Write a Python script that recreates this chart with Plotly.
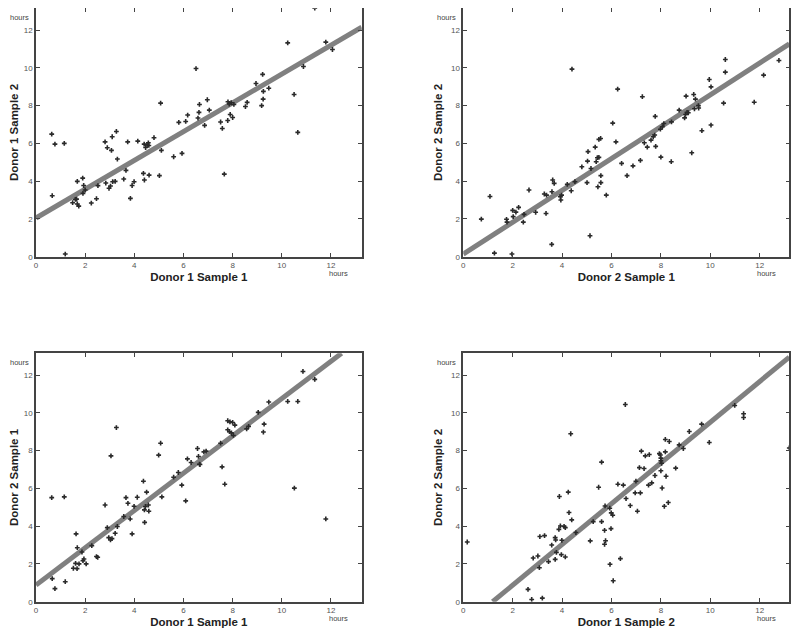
import plotly.graph_objects as go

# ---------------- data ----------------
p1_x = [0.64,0.77,1.15,0.66,1.19,1.49,1.60,1.68,1.74,1.65,1.68,1.90,1.94,1.91,2.00,2.25,2.46,2.52,2.81,2.84,
        2.90,2.97,3.03,3.07,3.12,3.22,3.10,3.27,3.31,3.57,3.66,3.73,3.84,3.91,3.99,4.14,4.37,4.40,4.41,4.46,
        4.52,4.59,4.57,4.60,4.80,5.02,5.07,5.10,5.60,5.94,5.81,6.09,6.17,6.51,6.59,6.63,6.65,6.86,6.97,7.05,
        7.51,7.58,7.66,7.81,7.80,7.86,7.94,7.90,8.00,8.05,8.52,8.59,8.95,9.22,9.25,9.24,9.18,9.47,10.24,10.50,
        10.65,10.88,11.34,11.79,12.06]
p1_y = [6.49,5.96,6.00,3.23,0.14,2.86,3.03,2.79,2.68,3.05,3.99,4.16,3.77,3.35,3.53,2.84,3.07,3.76,6.08,3.90,
        5.77,3.62,3.74,5.63,3.97,3.99,6.35,6.63,5.17,4.11,4.57,6.08,3.09,3.77,3.97,6.12,4.41,5.96,4.06,5.78,
        5.94,5.89,6.03,4.32,6.30,4.29,8.13,5.63,5.29,5.47,7.11,7.16,7.50,9.96,7.34,7.64,8.06,6.95,8.31,7.76,
        7.13,6.79,4.37,8.20,7.21,8.08,8.15,7.53,7.37,8.06,7.95,8.17,9.17,9.65,8.75,8.34,8.00,8.92,11.32,8.59,
        6.58,10.07,13.16,11.36,10.97]

p2_x = [0.73,1.08,1.26,1.75,1.77,1.97,2.00,2.02,2.13,2.24,2.43,2.46,2.66,2.93,3.28,3.37,3.35,3.58,3.59,3.62,
        3.68,3.93,3.95,3.98,4.21,4.37,4.40,4.52,4.80,5.01,5.03,5.05,5.13,5.17,5.34,5.38,5.45,5.49,5.49,5.56,
        5.43,5.57,5.57,5.79,6.05,6.18,6.25,6.41,6.63,6.87,7.17,7.25,7.33,7.45,7.60,7.69,7.75,7.77,7.79,8.00,
        7.98,8.06,8.12,8.42,8.43,8.74,8.96,9.00,9.06,9.11,9.02,9.25,9.33,9.40,9.36,9.52,9.53,9.66,9.96,10.03,
        10.03,10.54,10.61,10.61,11.78,12.16,12.78]
p2_y = [1.99,3.19,0.19,1.98,1.83,0.14,2.45,2.12,2.36,2.61,1.83,2.24,3.53,2.35,3.32,3.26,2.29,0.65,3.44,4.06,
        3.88,3.17,3.00,3.26,3.83,3.49,9.93,3.97,4.76,3.92,5.06,5.56,1.11,4.67,5.80,5.03,3.70,6.21,5.26,6.26,
        5.24,4.29,3.92,3.26,7.07,6.08,8.87,4.94,4.29,4.81,5.10,8.47,6.03,5.80,6.17,6.35,6.44,7.43,5.84,5.27,
        6.75,6.88,7.05,5.03,7.14,7.76,7.35,7.53,7.64,7.62,8.50,5.50,8.59,8.34,7.83,8.00,7.87,6.67,9.38,8.99,
        6.97,8.13,10.44,9.77,8.18,9.61,10.39]

p3_x = [0.64,0.66,0.77,1.15,1.19,1.52,1.63,1.61,1.67,1.68,1.75,1.87,1.91,1.95,2.04,2.27,2.46,2.51,2.81,2.90,
        2.96,3.03,3.09,3.05,3.22,3.27,3.31,3.57,3.66,3.74,3.83,3.91,3.99,4.12,4.37,4.41,4.45,4.42,4.50,4.57,
        4.59,4.99,5.07,5.12,5.60,5.79,5.93,6.09,6.16,6.31,6.57,6.61,6.65,6.67,6.83,6.92,7.51,7.57,7.68,7.80,
        7.89,8.00,8.09,7.80,7.87,7.95,8.03,8.57,8.65,9.04,9.28,9.25,9.47,10.24,10.51,10.65,10.86,11.34,11.79]
p3_y = [5.51,1.22,0.69,5.55,1.06,1.77,3.59,2.03,1.75,2.86,2.00,2.63,2.17,2.26,2.00,2.97,2.39,2.35,5.12,3.92,
        3.39,3.27,3.34,7.72,3.62,9.22,3.98,4.51,5.51,5.21,4.38,3.59,5.05,5.53,6.38,4.86,5.04,4.20,5.80,5.12,
        4.79,7.76,8.39,5.55,6.59,6.84,6.17,5.34,7.56,7.37,8.11,7.69,7.28,7.26,7.93,7.97,8.39,7.14,6.22,9.58,
        9.52,9.49,9.35,9.10,9.00,8.94,8.80,9.15,9.28,10.02,9.40,8.98,10.57,10.60,6.01,10.60,12.19,11.77,4.38]

p4_x = [0.16,2.62,2.77,2.83,3.02,3.08,3.10,3.20,3.29,3.45,3.58,3.72,3.74,3.72,3.77,3.89,3.87,3.93,4.08,3.97,
        3.99,4.13,4.13,4.25,4.28,4.35,4.39,4.56,5.14,5.26,5.48,5.60,5.60,5.72,5.74,5.76,5.72,5.93,5.98,5.94,
        5.99,6.05,6.07,6.26,6.36,6.48,6.56,6.59,6.76,6.96,6.99,7.05,7.13,7.17,7.21,7.32,7.37,7.50,7.53,7.63,
        7.76,7.94,7.98,8.00,8.00,8.03,8.00,8.05,8.14,8.18,8.18,8.21,8.34,8.30,8.60,8.74,8.91,9.15,9.65,9.96,
        10.99,11.35,11.35,13.20]
p4_y = [3.16,0.65,0.12,2.31,2.42,1.80,3.45,0.19,3.50,2.12,3.00,3.39,3.27,2.24,2.61,5.57,3.83,4.01,3.99,2.49,
        3.25,3.92,2.37,5.80,4.72,8.89,4.33,3.66,3.22,4.24,6.06,7.39,4.24,3.78,5.07,3.23,3.04,4.95,3.87,1.98,
        4.70,4.58,1.11,6.22,2.28,6.17,10.44,5.46,5.09,5.76,6.38,4.79,7.10,5.76,7.97,7.05,7.72,6.17,7.79,6.29,
        6.68,7.84,7.77,7.60,7.46,7.33,6.93,6.02,5.05,8.59,7.93,6.64,8.48,5.25,7.07,8.30,8.11,9.01,9.40,8.43,
        10.39,9.95,9.75,8.14]

panel_x = [p1_x, p2_x, p3_x, p4_x]
panel_y = [p1_y, p2_y, p3_y, p4_y]
fit_intercept = [2.05, 0.14, 0.88, -1.28]
fit_slope = [0.762, 0.843, 0.987, 1.078]
x_titles = ["Donor 1 Sample 1", "Donor 2 Sample 1", "Donor 1 Sample 1", "Donor 1 Sample 2"]
y_titles = ["Donor 1 Sample 2", "Donor 2 Sample 2", "Donor 2 Sample 1", "Donor 2 Sample 2"]
tick_vals = [0, 2, 4, 6, 8, 10, 12]
tick_text = ["0", "2", "4", "6", "8", "10", "12"]
x_max = [13.25, 13.2, 13.25, 13.2]
y_max = 13.15
unit_label = "hours"

# ---------------- layout ----------------
W, H = 800, 631
OFF = 8  # page body margin of the html page


def fx(px):
    return (px - OFF) / W


def fy(py):
    return 1 - (py - OFF) / H


xdom = [[fx(36), fx(361.7)], [fx(463.3), fx(789.3)], [fx(36), fx(361.7)], [fx(463.3), fx(789.3)]]
ydom_top = [fy(256.7), fy(8.3)]
ydom_bot = [fy(601.7), fy(353.3)]
ydom = [ydom_top, ydom_top, ydom_bot, ydom_bot]
left_px = [36, 463.3, 36, 463.3]
right_px = [361.7, 789.3, 361.7, 789.3]
top_px = [8.3, 8.3, 353.3, 353.3]
bot_px = [256.7, 256.7, 601.7, 601.7]

fig = go.Figure()
layout = dict(width=W, height=H, margin=dict(l=0, r=0, t=0, b=0, autoexpand=False),
              paper_bgcolor="white", plot_bgcolor="white", showlegend=False,
              font=dict(family="Liberation Sans, Arial, sans-serif"))
annotations = []

for i in range(4):
    sx = "" if i == 0 else str(i + 1)
    xa, ya = "x" + sx, "y" + sx
    xs, ys = panel_x[i], panel_y[i]
    b, m = fit_intercept[i], fit_slope[i]
    lx0 = -b / m if b < 0 else 0.0
    lx1 = min(x_max[i], (y_max - b) / m)
    fig.add_trace(go.Scatter(x=[lx0, lx1], y=[b + m * lx0, b + m * lx1], mode="lines",
                             line=dict(color="#808080", width=5), xaxis=xa, yaxis=ya,
                             hoverinfo="skip"))
    fig.add_trace(go.Scatter(x=xs, y=ys, mode="markers", xaxis=xa, yaxis=ya,
                             marker=dict(symbol="cross", size=4, color="#2a2a2a",
                                         line=dict(width=0))))
    axis_common = dict(showgrid=False, zeroline=False, showline=True, linecolor="#444444",
                       linewidth=1.5, mirror="ticks", ticks="inside", ticklen=4,
                       tickcolor="#444444", tickvals=tick_vals, ticktext=tick_text,
                       automargin=False,
                       tickfont=dict(size=8, color="#555555",
                                     family="Liberation Sans Narrow, Liberation Sans, Arial"))
    layout["xaxis" + sx] = dict(axis_common, domain=xdom[i], range=[0, x_max[i]],
                                anchor=ya,
                                title=dict(text="<b>" + x_titles[i] + "</b>", standoff=4,
                                           font=dict(size=11.5, color="#222222")))
    layout["yaxis" + sx] = dict(axis_common, domain=ydom[i], range=[0, y_max],
                                anchor=xa,
                                title=dict(text="<b>" + y_titles[i] + "</b>", standoff=6,
                                           font=dict(size=11.5, color="#222222")))
    # unit labels
    annotations.append(dict(text=unit_label, xref="paper", yref="paper",
                            x=fx(left_px[i] - 17), y=fy(top_px[i] + 9),
                            showarrow=False, font=dict(size=7.5, color="#444444"),
                            xanchor="center", yanchor="middle"))
    annotations.append(dict(text=unit_label, xref="paper", yref="paper",
                            x=fx(right_px[i] - 23), y=fy(bot_px[i] + 17),
                            showarrow=False, font=dict(size=7.5, color="#444444"),
                            xanchor="center", yanchor="middle"))

layout["annotations"] = annotations
fig.update_layout(**layout)
fig.write_html("out.html")
